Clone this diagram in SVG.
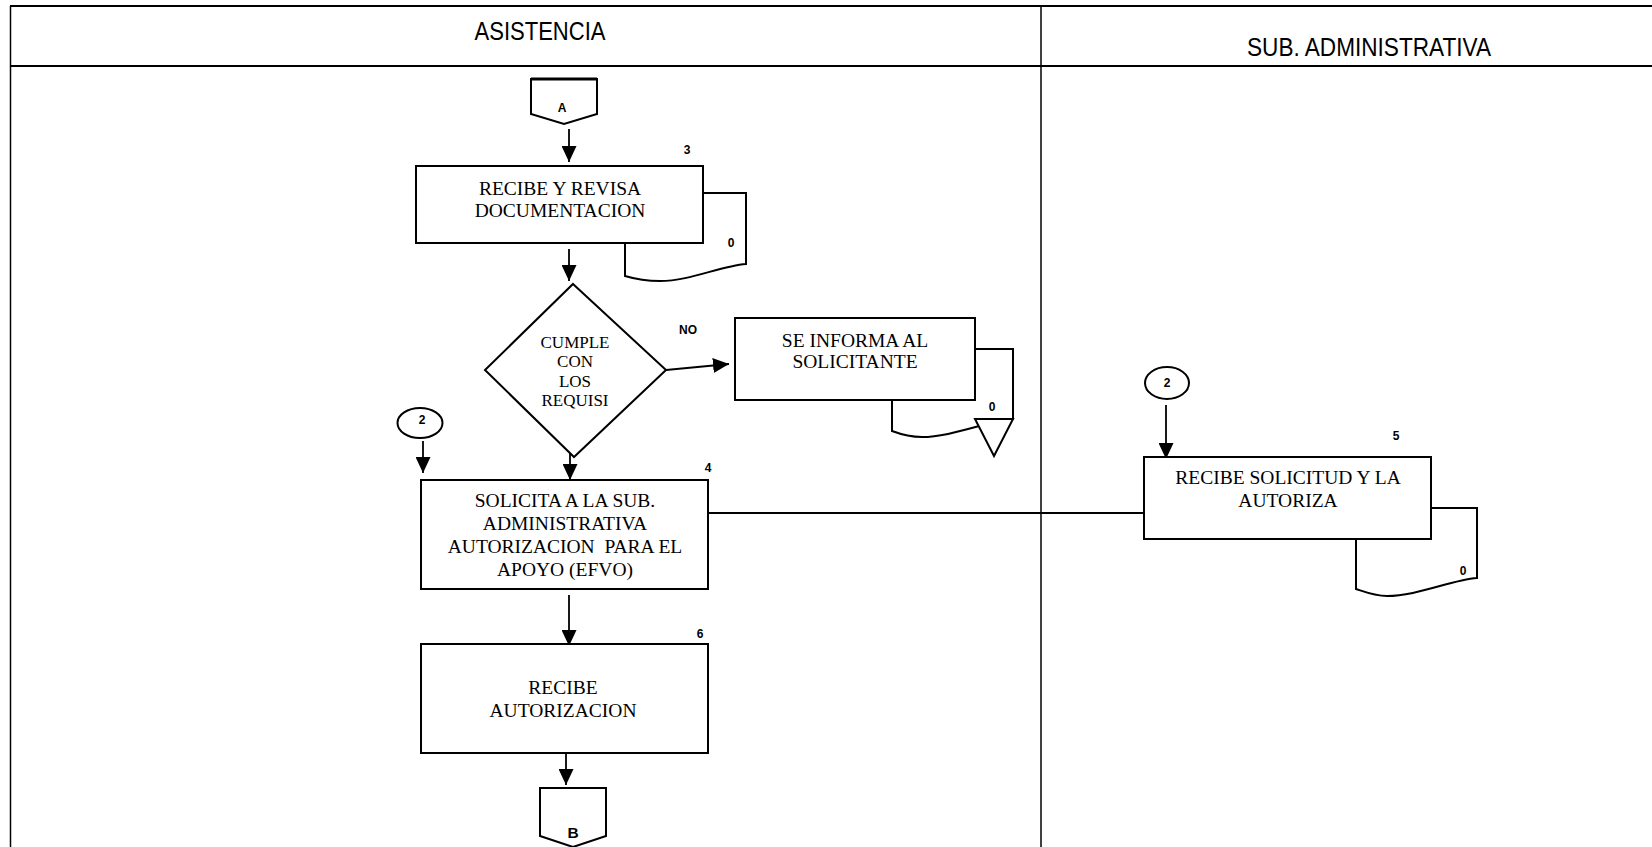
<svg xmlns="http://www.w3.org/2000/svg" width="1652" height="847" viewBox="0 0 1652 847">
  <style>
    .lane { fill: none; stroke: #000; stroke-width: 1.5; }
    .rule { fill: none; stroke: #000; stroke-width: 2.2; }
    .shape { fill: #fff; stroke: #000; stroke-width: 2; }
    .tail { fill: none; stroke: #000; stroke-width: 2; }
    .conn { fill: none; stroke: #000; stroke-width: 1.8; }
    .head { font-family: "Liberation Sans", Arial, sans-serif; font-size: 25px; fill: #000; text-anchor: middle; }
    .txt { font-family: "Liberation Serif", "Times New Roman", serif; font-size: 19.5px; fill: #000; text-anchor: middle; }
    .dtxt { font-family: "Liberation Serif", "Times New Roman", serif; font-size: 17px; fill: #000; text-anchor: middle; }
    .num { font-family: "Liberation Sans", Arial, sans-serif; font-weight: bold; font-size: 12px; fill: #000; text-anchor: middle; }
  </style>
  <defs>
    <marker id="arrow" markerUnits="userSpaceOnUse" markerWidth="16" markerHeight="15" refX="16" refY="7.5" orient="auto">
      <path d="M0,0 L16,7.5 L0,15 Z" fill="#000"/>
    </marker>
  </defs>

  <rect width="1652" height="847" fill="#fff"/>

  <!-- swimlane frame -->
  <g id="lanes">
    <line class="rule" x1="10" y1="6" x2="1652" y2="6"/>
    <line class="rule" x1="10" y1="66" x2="1652" y2="66"/>
    <line class="lane" x1="10.5" y1="6" x2="10.5" y2="847"/>
    <line class="lane" x1="1041" y1="6" x2="1041" y2="847"/>
    <text class="head" x="540" y="40" textLength="131" lengthAdjust="spacingAndGlyphs">ASISTENCIA</text>
    <text class="head" x="1369" y="56" textLength="244" lengthAdjust="spacingAndGlyphs">SUB. ADMINISTRATIVA</text>
  </g>

  <!-- connectors -->
  <g id="connectors">
    <line class="conn" x1="569" y1="129" x2="569" y2="162" marker-end="url(#arrow)"/>
    <line class="conn" x1="569" y1="249" x2="569" y2="281" marker-end="url(#arrow)"/>
    <line class="conn" x1="666" y1="370" x2="729" y2="364" marker-end="url(#arrow)"/>
    <line class="conn" x1="570" y1="449" x2="570" y2="480" marker-end="url(#arrow)"/>
    <line class="conn" x1="423" y1="441" x2="423" y2="473" marker-end="url(#arrow)"/>
    <line class="conn" x1="569" y1="595" x2="569" y2="646" marker-end="url(#arrow)"/>
    <line class="conn" x1="566" y1="753" x2="566" y2="785" marker-end="url(#arrow)"/>
    <line class="conn" x1="1166" y1="405" x2="1166" y2="459" marker-end="url(#arrow)"/>
    <line class="conn" x1="709" y1="513" x2="1144" y2="513"/>
    <text class="num" x="688" y="334">NO</text>
  </g>

  <!-- off-page connector A -->
  <g id="conn-a">
    <path class="shape" d="M531,79 H597 V114 L564,124 L531,114 Z"/>
    <line x1="531" y1="79" x2="597" y2="79" stroke="#000" stroke-width="3"/>
    <text class="num" x="562" y="112">A</text>
  </g>

  <!-- step 3 -->
  <g id="step3">
    <path class="tail" d="M703,193 H746 V264 C720,266 690,281 660,281 C645,281 635,279 625,276 V243"/>
    <rect class="shape" x="416" y="166" width="287" height="77"/>
    <text class="txt" x="560" y="195">RECIBE Y REVISA</text>
    <text class="txt" x="560" y="217">DOCUMENTACION</text>
    <text class="num" x="687" y="154">3</text>
    <text class="num" x="731" y="247">0</text>
  </g>

  <!-- decision -->
  <g id="decision">
    <path class="shape" d="M573,284 L666,370 L574,457 L485,370 Z"/>
    <text class="dtxt" x="575" y="348">CUMPLE</text>
    <text class="dtxt" x="575" y="367">CON</text>
    <text class="dtxt" x="575" y="387">LOS</text>
    <text class="dtxt" x="575" y="406">REQUISI</text>
  </g>

  <!-- informs the applicant -->
  <g id="informa">
    <path class="tail" d="M975,349 H1013 V419 C987,421 952,437 922,437 C910,437 900,434 892,431 V400"/>
    <rect class="shape" x="735" y="318" width="240" height="82"/>
    <text class="txt" x="855" y="347">SE INFORMA AL</text>
    <text class="txt" x="855" y="368">SOLICITANTE</text>
    <path class="shape" d="M975,419 H1013 L994,456 Z"/>
    <text class="num" x="992" y="411">0</text>
  </g>

  <!-- on-page connector 2 (left) -->
  <g id="ref2-left">
    <ellipse class="shape" cx="420" cy="423" rx="22.5" ry="15"/>
    <text class="num" x="422" y="424">2</text>
  </g>

  <!-- step 4 -->
  <g id="step4">
    <rect class="shape" x="421" y="480" width="287" height="109"/>
    <text class="txt" x="565" y="507">SOLICITA A LA SUB.</text>
    <text class="txt" x="565" y="530">ADMINISTRATIVA</text>
    <text class="txt" x="565" y="553" style="white-space:pre">AUTORIZACION  PARA EL</text>
    <text class="txt" x="565" y="576">APOYO (EFVO)</text>
    <text class="num" x="708" y="472">4</text>
  </g>

  <!-- step 6 -->
  <g id="step6">
    <rect class="shape" x="421" y="644" width="287" height="109"/>
    <text class="txt" x="563" y="694">RECIBE</text>
    <text class="txt" x="563" y="717">AUTORIZACION</text>
    <text class="num" x="700" y="638">6</text>
  </g>

  <!-- off-page connector B -->
  <g id="conn-b">
    <path class="shape" d="M540,788 H606 V836 L573,847 L540,836 Z"/>
    <text class="num" x="573" y="838" style="font-size:15.5px">B</text>
  </g>

  <!-- on-page connector 2 (right) -->
  <g id="ref2-right">
    <ellipse class="shape" cx="1167" cy="383" rx="22" ry="16"/>
    <text class="num" x="1167" y="387">2</text>
  </g>

  <!-- step 5 -->
  <g id="step5">
    <path class="tail" d="M1431,508 H1477 V578 C1451,580 1417,596 1387,596 C1375,596 1365,592 1356,589 V539"/>
    <rect class="shape" x="1144" y="457" width="287" height="82"/>
    <text class="txt" x="1288" y="484">RECIBE SOLICITUD Y LA</text>
    <text class="txt" x="1288" y="507">AUTORIZA</text>
    <text class="num" x="1396" y="440">5</text>
    <text class="num" x="1463" y="575">0</text>
  </g>
</svg>
